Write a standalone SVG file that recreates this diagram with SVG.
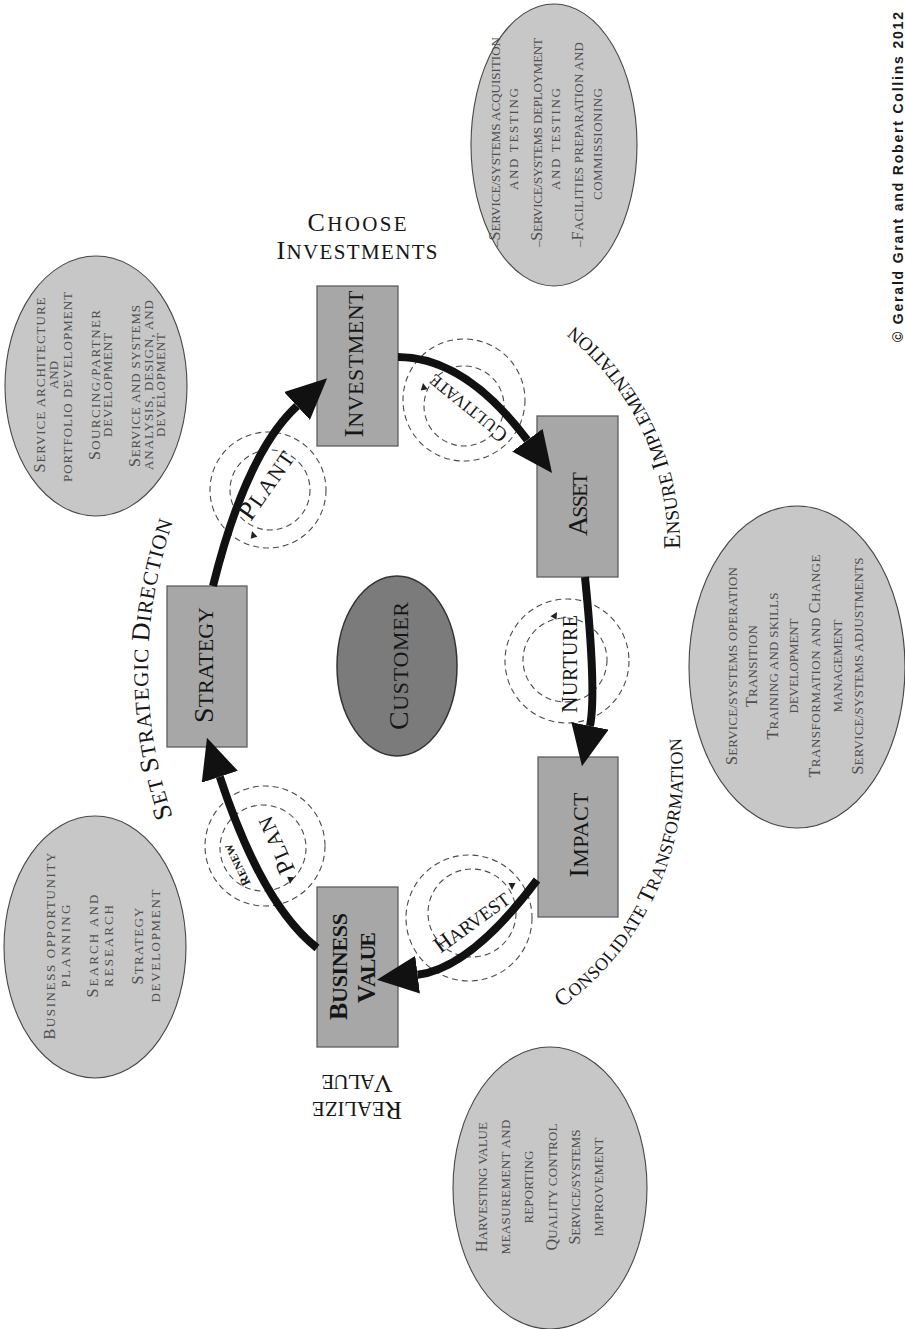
<svg xmlns="http://www.w3.org/2000/svg" width="905" height="1329" viewBox="0 0 905 1329">
<defs>
<style>
.box{fill:#a7a7a7;stroke:#5e5e5e;stroke-width:1.3}
.note{fill:#c7c7c7;stroke:#474747;stroke-width:1.1}
.cust{fill:#7b7b7b;stroke:#333;stroke-width:1.5}
.dash{fill:none;stroke:#4a4a4a;stroke-width:1.1;stroke-dasharray:6 4}
.arr{fill:none;stroke:#111;stroke-width:8}
.lbl{font-family:"Liberation Serif",serif;fill:#161616;text-anchor:middle}
.node{font-family:"Liberation Serif",serif;fill:#161616;text-anchor:middle;font-size:22px}
.node .c{font-size:28px}
.el{font-family:"Liberation Serif",serif;fill:#4f4f4f;text-anchor:middle;font-size:13px}
.el .c{font-size:16px}
.big{font-size:21px}
.big .c{font-size:26px}
.arc{font-family:"Liberation Serif",serif;fill:#161616}
.tri{fill:#222}
.copy{font-family:"Liberation Sans",sans-serif;font-weight:bold;font-size:14px;fill:#1a1a1a}
</style>
<marker id="head" markerUnits="userSpaceOnUse" viewBox="0 0 41 38" refX="0" refY="19" markerWidth="41" markerHeight="38" orient="auto">
<path d="M0,0 L41,19 L0,38 Z" fill="#111"/>
</marker>
<path id="tri" d="M0,0 L-7,-3.5 L-7,3.5 Z"/>
<path id="arcSet" d="M187.6,854.4 A450,450 0 0 1 188.5,483.4" fill="none"/>
<path id="arcEnsure" d="M675.2,596.5 A280,280 0 0 0 534,299.2" fill="none"/>
<path id="arcConsol" d="M526.7,1029.2 A293,293 0 0 0 673.8,697.1" fill="none"/>
</defs>
<rect width="905" height="1329" fill="#fff"/>

<!-- side notes -->
<g id="note-plant">
<ellipse class="note" cx="96" cy="386" rx="91" ry="130"/>
<g class="el">
<text transform="translate(45,385) rotate(-90)" textLength="175"><tspan class="c">S</tspan>ERVICE ARCHITECTURE</text>
<text transform="translate(58,375) rotate(-90)">AND</text>
<text transform="translate(72,387) rotate(-90)" textLength="190">PORTFOLIO DEVELOPMENT</text>
<text transform="translate(100,385) rotate(-90)" textLength="150"><tspan class="c">S</tspan>OURCING/PARTNER</text>
<text transform="translate(112,385) rotate(-90)" textLength="104">DEVELOPMENT</text>
<text transform="translate(140,386) rotate(-90)" textLength="162"><tspan class="c">S</tspan>ERVICE AND SYSTEMS</text>
<text transform="translate(153,385) rotate(-90)" textLength="170">ANALYSIS, DESIGN, AND</text>
<text transform="translate(165,385) rotate(-90)" textLength="104">DEVELOPMENT</text>
</g>
</g>

<g id="note-cultivate">
<ellipse class="note" cx="554" cy="145" rx="83" ry="141"/>
<g class="el">
<text transform="translate(500,142) rotate(-90)" textLength="210">–<tspan class="c">S</tspan>ERVICE/SYSTEMS ACQUISITION</text>
<text transform="translate(518,139) rotate(-90)" textLength="102">AND TESTING</text>
<text transform="translate(542,142.5) rotate(-90)" textLength="209">–<tspan class="c">S</tspan>ERVICE/SYSTEMS DEPLOYMENT</text>
<text transform="translate(560,139) rotate(-90)" textLength="102">AND TESTING</text>
<text transform="translate(583,144.5) rotate(-90)" textLength="205">–<tspan class="c">F</tspan>ACILITIES PREPARATION AND</text>
<text transform="translate(602,144) rotate(-90)" textLength="112">COMMISSIONING</text>
</g>
</g>

<g id="note-nurture">
<ellipse class="note" cx="797" cy="667" rx="108" ry="161"/>
<g class="el">
<text transform="translate(737,666) rotate(-90)" textLength="198"><tspan class="c">S</tspan>ERVICE/SYSTEMS OPERATION</text>
<text transform="translate(757,666) rotate(-90)" textLength="82"><tspan class="c">T</tspan>RANSITION</text>
<text transform="translate(778,666) rotate(-90)" textLength="147"><tspan class="c">T</tspan>RAINING AND SKILLS</text>
<text transform="translate(798,666) rotate(-90)" textLength="95">DEVELOPMENT</text>
<text transform="translate(820,666) rotate(-90)" textLength="223"><tspan class="c">T</tspan>RANSFORMATION AND <tspan class="c">C</tspan>HANGE</text>
<text transform="translate(842,666) rotate(-90)" textLength="93">MANAGEMENT</text>
<text transform="translate(863,666) rotate(-90)" textLength="217"><tspan class="c">S</tspan>ERVICE/SYSTEMS ADJUSTMENTS</text>
</g>
</g>

<g id="note-harvest">
<ellipse class="note" cx="550" cy="1188" rx="97" ry="141"/>
<g class="el">
<text transform="translate(487,1187) rotate(-90)" textLength="130"><tspan class="c">H</tspan>ARVESTING VALUE</text>
<text transform="translate(510,1187) rotate(-90)" textLength="135">MEASUREMENT AND</text>
<text transform="translate(533,1187) rotate(-90)" textLength="73">REPORTING</text>
<text transform="translate(557,1187) rotate(-90)" textLength="127"><tspan class="c">Q</tspan>UALITY CONTROL</text>
<text transform="translate(580,1187) rotate(-90)" textLength="115"><tspan class="c">S</tspan>ERVICE/SYSTEMS</text>
<text transform="translate(603,1187) rotate(-90)" textLength="99">IMPROVEMENT</text>
</g>
</g>

<g id="note-plan">
<ellipse class="note" cx="95" cy="947" rx="91" ry="131"/>
<g class="el">
<text transform="translate(55,946) rotate(-90)" textLength="187"><tspan class="c">B</tspan>USINESS OPPORTUNITY</text>
<text transform="translate(70,946) rotate(-90)" textLength="83">PLANNING</text>
<text transform="translate(98,946) rotate(-90)" textLength="103"><tspan class="c">S</tspan>EARCH AND</text>
<text transform="translate(113,946) rotate(-90)" textLength="82">RESEARCH</text>
<text transform="translate(143,946) rotate(-90)" textLength="77"><tspan class="c">S</tspan>TRATEGY</text>
<text transform="translate(160,946) rotate(-90)" textLength="113">DEVELOPMENT</text>
</g>
</g>

<!-- phase labels -->
<g id="phase-labels">
<text class="lbl big" x="357" y="231" textLength="99"><tspan class="c">C</tspan>HOOSE</text>
<text class="lbl big" x="357" y="259" textLength="161"><tspan class="c">I</tspan>NVESTMENTS</text>
<g transform="translate(357,1102) rotate(180)">
<text class="lbl big" x="0" y="0" textLength="90"><tspan class="c">R</tspan>EALIZE</text>
<text class="lbl big" x="0" y="27" textLength="71"><tspan class="c">V</tspan>ALUE</text>
</g>
<text class="arc" font-size="21" letter-spacing="0.8"><textPath href="#arcSet" startOffset="50%" text-anchor="middle"><tspan font-size="26">S</tspan>ET <tspan font-size="26">S</tspan>TRATEGIC <tspan font-size="26">D</tspan>IRECTION</textPath></text>
<text class="arc" font-size="19" letter-spacing="0.3"><textPath href="#arcEnsure" startOffset="50%" text-anchor="middle"><tspan font-size="24">E</tspan>NSURE <tspan font-size="24">I</tspan>MPLEMENTATION</textPath></text>
<text class="arc" font-size="18" letter-spacing="0.4"><textPath href="#arcConsol" startOffset="50%" text-anchor="middle"><tspan font-size="23">C</tspan>ONSOLIDATE <tspan font-size="23">T</tspan>RANSFORMATION</textPath></text>
</g>

<!-- dashed cycle circles -->
<g id="cycles">
<circle class="dash" cx="268" cy="490" r="58"/>
<circle class="dash" cx="270" cy="490" r="40"/>
<use href="#tri" class="tri" transform="translate(252,531) rotate(-107)"/>
<circle class="dash" cx="464" cy="400" r="61"/>
<circle class="dash" cx="464" cy="406" r="40"/>
<use href="#tri" class="tri" transform="translate(423,383) rotate(-100)"/>
<circle class="dash" cx="567" cy="661" r="62"/>
<circle class="dash" cx="565" cy="660" r="42"/>
<use href="#tri" class="tri" transform="translate(557,612) rotate(-60)"/>
<circle class="dash" cx="469" cy="918" r="63"/>
<circle class="dash" cx="472" cy="913" r="44"/>
<use href="#tri" class="tri" transform="translate(512,890) rotate(90)"/>
<circle class="dash" cx="265" cy="846" r="60"/>
<circle class="dash" cx="263" cy="848" r="43"/>
<use href="#tri" class="tri" transform="translate(290,884) rotate(95)"/>
</g>

<!-- nodes -->
<g id="node-investment">
<rect class="box" x="317" y="286" width="81" height="160"/>
<text class="node" transform="translate(363,364) rotate(-90)" textLength="147"><tspan class="c">I</tspan>NVESTMENT</text>
</g>
<g id="node-strategy">
<rect class="box" x="167" y="586" width="80" height="161"/>
<text class="node" transform="translate(213,665) rotate(-90)" textLength="116"><tspan class="c">S</tspan>TRATEGY</text>
</g>
<g id="node-asset">
<rect class="box" x="537" y="416" width="81" height="161"/>
<text class="node" transform="translate(587,504) rotate(-90)" textLength="64"><tspan class="c">A</tspan>SSET</text>
</g>
<g id="node-impact">
<rect class="box" x="538" y="757" width="80" height="160"/>
<text class="node" transform="translate(588,835) rotate(-90)" textLength="85"><tspan class="c">I</tspan>MPACT</text>
</g>
<g id="node-business-value">
<rect class="box" x="317" y="887" width="81" height="160"/>
<text class="node" font-weight="bold" font-size="21" transform="translate(347,966.5) rotate(-90)" textLength="107"><tspan font-size="26">B</tspan>USINESS</text>
<text class="node" font-weight="bold" font-size="20" transform="translate(375,967.5) rotate(-90)" textLength="71"><tspan font-size="25">V</tspan>ALUE</text>
</g>
<g id="node-customer">
<ellipse class="cust" cx="397" cy="666" rx="60" ry="90"/>
<text class="node" transform="translate(408,666) rotate(-90)" textLength="128"><tspan class="c">C</tspan>USTOMER</text>
</g>

<!-- connectors -->
<g id="connectors">
<path class="arr" d="M213,586 Q246,453 297,406" marker-end="url(#head)"/>
<path class="arr" d="M398,357 Q465,357 527.4,440.2" marker-end="url(#head)"/>
<path class="arr" d="M585,577 Q596.6,693 590,726" marker-end="url(#head)"/>
<path class="arr" d="M537,880 Q471,968 417.6,974.7" marker-end="url(#head)"/>
<path class="arr" d="M317,948 Q262,905 219.8,776.8" marker-end="url(#head)"/>
</g>

<!-- connector labels -->
<g id="connector-labels">
<text class="lbl" font-size="22" transform="translate(273,490) rotate(-55)" textLength="78"><tspan font-size="27">P</tspan>LANT</text>
<text class="lbl" font-size="17" transform="translate(472,403) rotate(219)" textLength="95"><tspan font-size="21">C</tspan>ULTIVATE</text>
<text class="lbl" font-size="20" transform="translate(577,664) rotate(-90)" textLength="98"><tspan font-size="23">N</tspan>URTURE</text>
<text class="lbl" font-size="19" transform="translate(476,928) rotate(-36)" textLength="88"><tspan font-size="23">H</tspan>ARVEST</text>
<text class="lbl" font-size="21" transform="translate(283,842) rotate(-114)" textLength="60"><tspan font-size="25">P</tspan>LAN</text>
<text class="lbl" font-size="11" font-weight="bold" transform="translate(241,863) rotate(-116)" textLength="45"><tspan font-size="13">R</tspan>ENEW</text>
</g>

<text class="copy" transform="translate(903,342) rotate(-90)" textLength="330">© Gerald Grant and Robert Collins 2012</text>
</svg>
